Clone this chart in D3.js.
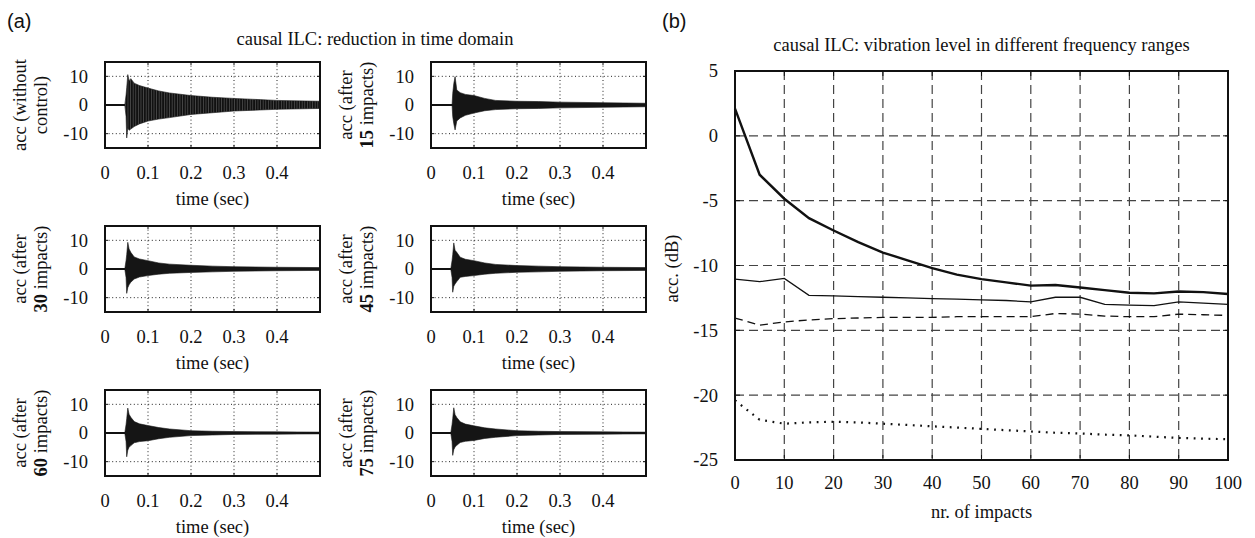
<!DOCTYPE html>
<html>
<head>
<meta charset="utf-8">
<script src="https://cdn.jsdelivr.net/npm/d3@7/dist/d3.min.js"></script>
<style>
  html, body { margin: 0; padding: 0; background: #fff; }
  svg { display: block; }
  text { font-family: "Liberation Serif", "Times New Roman", serif; fill: #111; }
</style>
</head>
<body>
<svg id="chart" width="1255" height="538"></svg>
<script>
// ---------------- DATA ----------------
// (a) time-domain subplots: envelope of the measured acceleration
const sampleTimes = [0.046, 0.049, 0.0505, 0.053, 0.056, 0.06, 0.068, 0.08, 0.1, 0.125, 0.15, 0.2, 0.25, 0.3, 0.4, 0.5];
const upperNoControl = [0, 3.5, 6.0, 10.6, 8.5, 9.2, 7.6, 6.8, 5.9, 4.9, 4.2, 3.3, 2.7, 2.3, 1.6, 1.3];
const lowerNoControl = [0, -4.0, -11.5, -8.0, -8.8, -8.4, -7.5, -6.6, -5.6, -4.9, -4.4, -3.3, -2.7, -2.1, -1.5, -1.2];
const upper15 = [0, 0, 4.0, 7.5, 9.9, 5.2, 4.3, 3.7, 3.3, 2.3, 1.6, 1.3, 1.2, 1.0, 0.8, 0.6];
const lower15 = [0, 0, -4.0, -6.5, -8.7, -5.6, -4.5, -3.6, -2.8, -2.0, -1.6, -1.3, -1.2, -1.0, -0.8, -0.6];
const upper30 = [0, 3.0, 5.0, 9.3, 7.0, 5.8, 4.2, 3.5, 2.9, 2.1, 1.7, 1.3, 1.0, 0.8, 0.6, 0.5];
const lower30 = [0, -3.0, -8.5, -6.5, -5.5, -4.6, -3.5, -2.8, -2.3, -1.8, -1.5, -1.2, -1.0, -0.8, -0.6, -0.5];
const upper45 = [0, 3.0, 5.0, 9.1, 6.5, 5.8, 4.1, 3.4, 2.9, 2.1, 1.6, 1.2, 1.0, 0.8, 0.6, 0.5];
const lower45 = [0, -3.0, -8.1, -6.0, -5.2, -4.4, -2.9, -2.6, -2.3, -1.8, -1.5, -1.15, -1.0, -0.8, -0.6, -0.5];
const upper60 = [0, 3.0, 5.0, 8.7, 6.5, 5.5, 4.0, 3.2, 2.6, 1.9, 1.4, 0.8, 0.6, 0.5, 0.4, 0.3];
const lower60 = [0, -3.0, -8.3, -6.0, -5.0, -4.4, -3.4, -3.0, -2.7, -2.0, -1.5, -0.9, -0.7, -0.5, -0.4, -0.3];
const upper75 = [0, 3.0, 5.0, 8.8, 6.4, 5.4, 3.9, 3.1, 2.5, 1.8, 1.4, 0.8, 0.6, 0.5, 0.4, 0.3];
const lower75 = [0, -3.0, -7.8, -5.8, -4.9, -4.3, -3.3, -2.9, -2.6, -1.9, -1.5, -0.9, -0.7, -0.5, -0.4, -0.3];
const impactsLabels = [null, "15", "30", "45", "60", "75"];
const timeTicks = [0, 0.1, 0.2, 0.3, 0.4];
const accTicks = [-10, 0, 10];

// (b) vibration level vs number of impacts
const impacts = [0, 5, 10, 15, 20, 25, 30, 35, 40, 45, 50, 55, 60, 65, 70, 75, 80, 85, 90, 95, 100];
const levelThick  = [2.1, -3.0, -4.85, -6.35, -7.3, -8.2, -9.0, -9.6, -10.2, -10.7, -11.05, -11.3, -11.55, -11.5, -11.7, -11.9, -12.1, -12.15, -12.0, -12.05, -12.2];
const levelThin   = [-11.05, -11.25, -11.0, -12.3, -12.35, -12.4, -12.45, -12.5, -12.55, -12.6, -12.65, -12.7, -12.8, -12.45, -12.45, -13.0, -13.05, -13.1, -12.8, -12.9, -13.0];
const levelDashed = [-14.05, -14.6, -14.35, -14.2, -14.1, -14.05, -14.0, -14.0, -14.0, -13.95, -13.95, -13.95, -13.95, -13.7, -13.75, -13.9, -13.95, -13.95, -13.75, -13.8, -13.85];
const levelDotted = [-20.4, -21.9, -22.2, -22.1, -22.05, -22.1, -22.2, -22.3, -22.4, -22.5, -22.6, -22.7, -22.8, -22.9, -22.95, -23.05, -23.1, -23.2, -23.3, -23.35, -23.4];
const impactTicks = [0, 10, 20, 30, 40, 50, 60, 70, 80, 90, 100];
const dbTicks = [5, 0, -5, -10, -15, -20, -25];

// ---------------- DRAW ----------------
const svg = d3.select("#chart");
const FS = 18.5;

// stripe pattern to suggest the dense oscillation
const defs = svg.append("defs");
const pat = defs.append("pattern").attr("id", "osc").attr("patternUnits", "userSpaceOnUse")
  .attr("width", 2.6).attr("height", 10);
pat.append("rect").attr("width", 2.6).attr("height", 10).attr("fill", "#555");
pat.append("rect").attr("width", 1.9).attr("height", 10).attr("fill", "#111");

// panel labels
svg.append("text").attr("x", 7).attr("y", 28).style("font-family", "'Liberation Sans', Arial, sans-serif")
  .style("font-size", "20px").text("(a)");
svg.append("text").attr("x", 662).attr("y", 28).style("font-family", "'Liberation Sans', Arial, sans-serif")
  .style("font-size", "20px").text("(b)");

// ---- (a) ----
svg.append("text").attr("x", 375).attr("y", 45).attr("text-anchor", "middle")
  .style("font-size", FS + "px").text("causal ILC: reduction in time domain");

const subplots = [
  { up: upperNoControl, lo: lowerNoControl },
  { up: upper15, lo: lower15 },
  { up: upper30, lo: lower30 },
  { up: upper45, lo: lower45 },
  { up: upper60, lo: lower60 },
  { up: upper75, lo: lower75 }
];
const colX = [105, 431];
const rowY = [62, 226, 390];
const pw = 215, ph = 86;

subplots.forEach((sp, i) => {
  const x0 = colX[i % 2], y0 = rowY[Math.floor(i / 2)];
  const g = svg.append("g").attr("transform", `translate(${x0},${y0})`);
  const x = d3.scaleLinear().domain([0, 0.5]).range([0, pw]);
  const y = d3.scaleLinear().domain([-15, 15]).range([ph, 0]);

  // dotted grid + small inner ticks
  timeTicks.filter(t => t > 0).forEach(t => {
    g.append("line").attr("x1", x(t)).attr("x2", x(t)).attr("y1", 0).attr("y2", ph)
      .attr("stroke", "#222").attr("stroke-width", 1).attr("stroke-dasharray", "1,2.6");
    g.append("line").attr("x1", x(t)).attr("x2", x(t)).attr("y1", 0).attr("y2", 3).attr("stroke", "#111");
    g.append("line").attr("x1", x(t)).attr("x2", x(t)).attr("y1", ph - 3).attr("y2", ph).attr("stroke", "#111");
  });
  accTicks.forEach(v => {
    g.append("line").attr("x1", 0).attr("x2", pw).attr("y1", y(v)).attr("y2", y(v))
      .attr("stroke", "#222").attr("stroke-width", 1).attr("stroke-dasharray", "1,2.6");
    g.append("line").attr("x1", 0).attr("x2", 3).attr("y1", y(v)).attr("y2", y(v)).attr("stroke", "#111");
    g.append("line").attr("x1", pw - 3).attr("x2", pw).attr("y1", y(v)).attr("y2", y(v)).attr("stroke", "#111");
  });

  // baseline (zero signal)
  g.append("line").attr("x1", x(0)).attr("x2", x(0.5)).attr("y1", y(0)).attr("y2", y(0))
    .attr("stroke", "#111").attr("stroke-width", 2);

  // signal envelope
  const pts = sampleTimes.map((t, k) => ({ t, u: sp.up[k], l: sp.lo[k] }));
  const area = d3.area().x(d => x(d.t)).y0(d => y(d.l)).y1(d => y(d.u));
  g.append("path").datum(pts).attr("d", area)
    .attr("fill", i === 0 ? "url(#osc)" : "#151515")
    .attr("stroke", "#151515").attr("stroke-width", 0.6);

  // frame
  g.append("rect").attr("x", 0).attr("y", 0).attr("width", pw).attr("height", ph)
    .attr("fill", "none").attr("stroke", "#111").attr("stroke-width", 2);

  // ticks labels
  timeTicks.forEach(t => {
    g.append("text").attr("x", x(t)).attr("y", ph + 31).attr("text-anchor", "middle")
      .style("font-size", FS + "px").text(t === 0 ? "0" : d3.format(".1f")(t));
  });
  accTicks.forEach(v => {
    g.append("text").attr("x", -17).attr("y", y(v)).attr("dy", "0.35em").attr("text-anchor", "end")
      .style("font-size", FS + "px").text(v);
  });
  g.append("text").attr("x", pw / 2).attr("y", ph + 57).attr("text-anchor", "middle")
    .style("font-size", FS + "px").text("time (sec)");

  // y label (two lines)
  const l1 = g.append("text").attr("transform", `translate(${-85},${ph / 2}) rotate(-90)`)
    .attr("text-anchor", "middle").attr("dy", "0.35em").style("font-size", FS + "px");
  const l2 = g.append("text").attr("transform", `translate(${-64},${ph / 2}) rotate(-90)`)
    .attr("text-anchor", "middle").attr("dy", "0.35em").style("font-size", FS + "px");
  if (impactsLabels[i] === null) {
    l1.text("acc (without");
    l2.text("control)");
  } else {
    l1.text("acc (after");
    l2.append("tspan").style("font-weight", "bold").text(impactsLabels[i]);
    l2.append("tspan").text(" impacts)");
  }
});

// ---- (b) ----
const bx0 = 735, by0 = 71, bw = 493, bh = 389;
const gb = svg.append("g").attr("transform", `translate(${bx0},${by0})`);
const xb = d3.scaleLinear().domain([0, 100]).range([0, bw]);
const yb = d3.scaleLinear().domain([-25, 5]).range([bh, 0]);

svg.append("text").attr("x", bx0 + bw / 2).attr("y", 51).attr("text-anchor", "middle")
  .style("font-size", FS + "px").text("causal ILC: vibration level in different frequency ranges");

// dashed grid + small inner ticks
impactTicks.filter(v => v > 0 && v < 100).forEach(v => {
  gb.append("line").attr("x1", xb(v)).attr("x2", xb(v)).attr("y1", 0).attr("y2", bh)
    .attr("stroke", "#444").attr("stroke-width", 1.2).attr("stroke-dasharray", "9,5");
  gb.append("line").attr("x1", xb(v)).attr("x2", xb(v)).attr("y1", bh - 5).attr("y2", bh).attr("stroke", "#111");
  gb.append("line").attr("x1", xb(v)).attr("x2", xb(v)).attr("y1", 0).attr("y2", 5).attr("stroke", "#111");
});
dbTicks.filter(v => v < 5 && v > -25).forEach(v => {
  gb.append("line").attr("x1", 0).attr("x2", bw).attr("y1", yb(v)).attr("y2", yb(v))
    .attr("stroke", "#444").attr("stroke-width", 1.2).attr("stroke-dasharray", "9,5");
  gb.append("line").attr("x1", 0).attr("x2", 5).attr("y1", yb(v)).attr("y2", yb(v)).attr("stroke", "#111");
  gb.append("line").attr("x1", bw - 5).attr("x2", bw).attr("y1", yb(v)).attr("y2", yb(v)).attr("stroke", "#111");
});

const lineGen = d3.line().x(d => xb(d[0])).y(d => yb(d[1]));
const series = [
  { v: levelThick, w: 2.4, dash: null },
  { v: levelThin, w: 1.3, dash: null },
  { v: levelDashed, w: 1.3, dash: "8,5" },
  { v: levelDotted, w: 2.2, dash: "1.8,5.6" }
];
series.forEach(s => {
  const p = gb.append("path").datum(impacts.map((k, j) => [k, s.v[j]]))
    .attr("d", lineGen).attr("fill", "none").attr("stroke", "#111").attr("stroke-width", s.w);
  if (s.dash) p.attr("stroke-dasharray", s.dash);
});

// frame
gb.append("rect").attr("x", 0).attr("y", 0).attr("width", bw).attr("height", bh)
  .attr("fill", "none").attr("stroke", "#111").attr("stroke-width", 2);

impactTicks.forEach(v => {
  gb.append("text").attr("x", xb(v)).attr("y", bh + 29).attr("text-anchor", "middle")
    .style("font-size", FS + "px").text(v);
});
dbTicks.forEach(v => {
  gb.append("text").attr("x", -17).attr("y", yb(v)).attr("dy", "0.35em").attr("text-anchor", "end")
    .style("font-size", FS + "px").text(v);
});
gb.append("text").attr("x", bw / 2).attr("y", bh + 58).attr("text-anchor", "middle")
  .style("font-size", FS + "px").text("nr. of impacts");
gb.append("text").attr("transform", `translate(${-63},${bh / 2 + 3}) rotate(-90)`)
  .attr("text-anchor", "middle").attr("dy", "0.35em").style("font-size", FS + "px").text("acc. (dB)");
</script>
</body>
</html>
